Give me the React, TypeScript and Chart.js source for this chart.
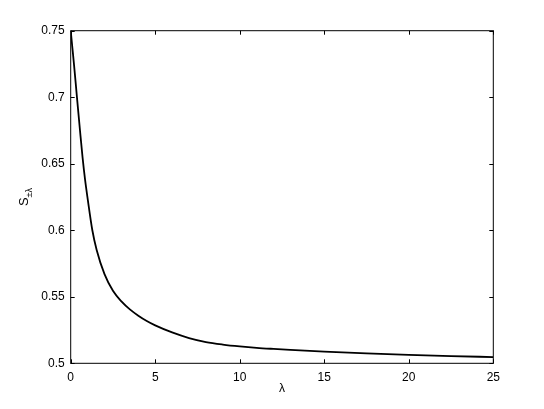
import React, { useEffect, useRef } from "react";
import { Chart, registerables } from "chart.js";

Chart.register(...registerables);

const lambdaValues = [0, 0.1, 0.2, 0.37, 0.55, 0.7, 0.85, 1.0, 1.28, 1.54, 2.0, 2.5, 3.0, 3.5, 4.0, 4.5, 5, 6, 7, 8, 9, 10, 11, 12, 13, 15, 17.5, 20, 22.5, 25];
const sValues = [0.75, 0.737, 0.724, 0.7, 0.675, 0.655, 0.638, 0.624, 0.6, 0.585, 0.567, 0.5545, 0.5465, 0.5405, 0.5358, 0.5318, 0.5285, 0.5232, 0.519, 0.516, 0.5141, 0.5127, 0.5116, 0.5108, 0.5101, 0.5088, 0.5074, 0.5063, 0.5054, 0.5047];
const xTicks = [0, 5, 10, 15, 20, 25];
const yTicks = [0.5, 0.55, 0.6, 0.65, 0.7, 0.75];
const xTitle = "λ";
const yTitleMain = "S";
const yTitleSub = "±λ";

const FONT = "'Liberation Sans', Arial, Helvetica, sans-serif";

const boxPlugin = {
  id: "matlabBox",
  afterDraw(chart: any) {
    const { ctx, chartArea } = chart;
    const { left, right, top, bottom } = chartArea;
    const xs = chart.scales.x;
    const ys = chart.scales.y;
    ctx.save();
    ctx.strokeStyle = "#000";
    ctx.lineWidth = 1;
    ctx.strokeRect(left, top, right - left, bottom - top);
    const tl = 4;
    ctx.beginPath();
    xTicks.forEach((v) => {
      const px = Math.round(xs.getPixelForValue(v)) + 0.5;
      ctx.moveTo(px, bottom);
      ctx.lineTo(px, bottom - tl);
      ctx.moveTo(px, top);
      ctx.lineTo(px, top + tl);
    });
    yTicks.forEach((v) => {
      const py = Math.round(ys.getPixelForValue(v)) + 0.5;
      ctx.moveTo(left, py);
      ctx.lineTo(left + tl, py);
      ctx.moveTo(right, py);
      ctx.lineTo(right - tl, py);
    });
    ctx.stroke();

    // axis titles
    ctx.fillStyle = "#000";
    ctx.font = `12px ${FONT}`;
    ctx.textAlign = "center";
    ctx.textBaseline = "middle";
    ctx.fillText(xTitle, (left + right) / 2, 389);

    ctx.translate(28, (top + bottom) / 2);
    ctx.rotate(-Math.PI / 2);
    ctx.textAlign = "left";
    ctx.textBaseline = "alphabetic";
    ctx.font = `13px ${FONT}`;
    const wMain = ctx.measureText(yTitleMain).width;
    ctx.font = `9px ${FONT}`;
    const wSub = ctx.measureText(yTitleSub).width;
    const start = -(wMain + wSub) / 2;
    ctx.font = `13px ${FONT}`;
    ctx.fillText(yTitleMain, start, 0);
    ctx.font = `9px ${FONT}`;
    ctx.fillText(yTitleSub, start + wMain, 4);
    ctx.restore();
  },
};

export default function App() {
  const ref = useRef<HTMLCanvasElement | null>(null);
  useEffect(() => {
    if (!ref.current) return;
    const data = lambdaValues.map((x, i) => ({ x, y: sValues[i] }));
    const chart = new Chart(ref.current, {
      type: "line",
      data: {
        datasets: [
          {
            data,
            borderColor: "#000",
            borderWidth: 1.8,
            pointRadius: 0,
            fill: false,
            cubicInterpolationMode: "monotone",
          },
        ],
      },
      options: {
        animation: false,
        responsive: false,
        devicePixelRatio: 1,
        layout: { padding: { left: 0, right: 50.7, top: 30.7, bottom: 0 } },
        plugins: { legend: { display: false }, tooltip: { enabled: false } },
        scales: {
          x: {
            type: "linear",
            min: 0,
            max: 25,
            afterBuildTicks: (s: any) => {
              s.ticks = xTicks.map((v) => ({ value: v }));
            },
            afterFit: (s: any) => {
              s.height = 45.7;
            },
            grid: { drawOnChartArea: false, drawTicks: false },
            border: { display: false },
            ticks: {
              padding: 7,
              color: "#000",
              font: { family: FONT, size: 12 },
              maxRotation: 0,
              callback: (v: any) => String(v),
            },
          },
          y: {
            type: "linear",
            min: 0.5,
            max: 0.75,
            afterBuildTicks: (s: any) => {
              s.ticks = yTicks.map((v) => ({ value: v }));
            },
            afterFit: (s: any) => {
              s.width = 70.7;
            },
            grid: { drawOnChartArea: false, drawTicks: false },
            border: { display: false },
            ticks: {
              padding: 6,
              color: "#000",
              font: { family: FONT, size: 12 },
              callback: (v: any) => String(Number(Number(v).toFixed(2))),
            },
          },
        },
      },
      plugins: [boxPlugin],
    });
    return () => chart.destroy();
  }, []);
  return (
    <div style={{ position: "fixed", left: 0, top: 0, width: 544, height: 409, background: "#fff" }}>
      <canvas ref={ref} width={544} height={409} style={{ display: "block" }} />
    </div>
  );
}
